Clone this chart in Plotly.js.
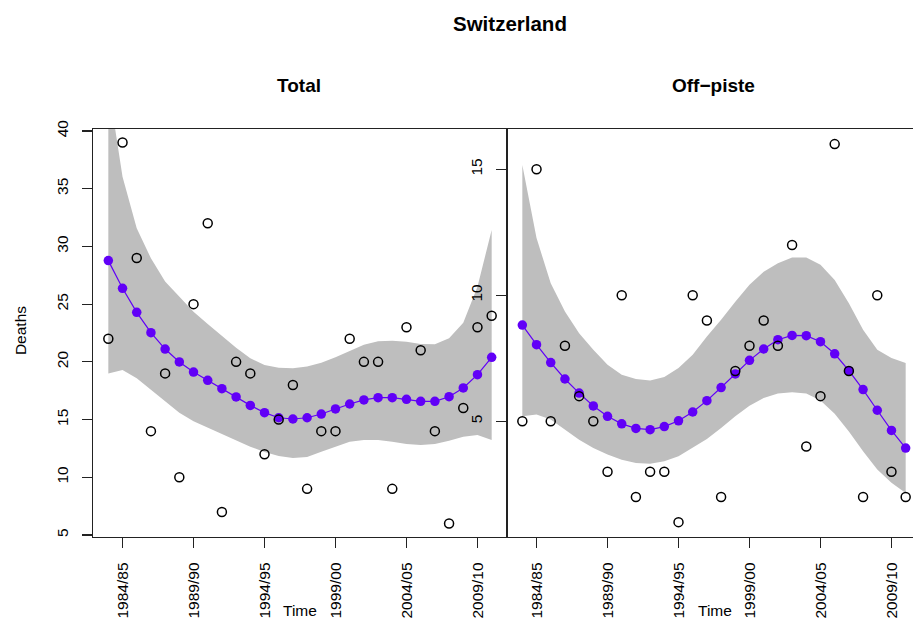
<!DOCTYPE html>
<html>
<head>
<meta charset="utf-8">
<script src="https://cdn.plot.ly/plotly-3.0.1.min.js"></script>
<style>
html,body{margin:0;padding:0;overflow:hidden;background:#fff;}
#chart{width:921px;height:624px;}
</style>
</head>
<body>
<div id="chart"></div>
<script>
// Season start years (1983 = 1983/84 ... 2010 = 2010/11)
var seasons = [1983,1984,1985,1986,1987,1988,1989,1990,1991,1992,1993,1994,1995,1996,
               1997,1998,1999,2000,2001,2002,2003,2004,2005,2006,2007,2008,2009,2010];
var tickYears = [1984,1989,1994,1999,2004,2009];
var tickLabels = ["1984/85","1989/90","1994/95","1999/00","2004/05","2009/10"];

// Total deaths
var totalObs = [22,39,29,14,19,10,25,32,7,20,19,12,15,18,9,14,14,22,20,20,9,23,21,14,6,16,23,24];
var totalFit = [28.77,26.37,24.29,22.53,21.11,19.99,19.12,18.40,17.68,16.96,16.23,15.60,15.16,15.05,
                15.16,15.48,15.92,16.35,16.70,16.90,16.90,16.76,16.58,16.58,16.98,17.74,18.89,20.39];
var totalUpper = [44.0,36.04,31.57,28.97,26.95,25.65,24.35,23.28,22.24,21.23,20.31,19.73,19.50,19.45,
                  19.60,19.93,20.39,20.94,21.49,21.78,21.83,21.75,21.55,21.52,22.04,23.39,26.51,31.42];
var totalLower = [19.0,19.29,18.57,17.6,16.6,15.6,14.85,14.3,13.8,13.2,12.65,12.2,11.85,11.68,
                  11.77,12.22,12.65,13.08,13.23,13.23,13.08,12.88,12.80,12.88,13.17,13.52,13.66,13.23];

// Off-piste deaths
var offObs = [5,15,5,8,6,5,3,10,2,3,3,1,10,9,2,7,8,9,8,12,4,6,16,7,2,10,3,2];
var offFit = [8.82,8.04,7.33,6.68,6.12,5.61,5.20,4.90,4.72,4.67,4.79,5.02,5.37,5.82,
              6.34,6.88,7.42,7.87,8.24,8.41,8.40,8.16,7.68,7.01,6.26,5.44,4.64,3.94];
var offUpper = [15.17,12.27,10.48,9.36,8.50,7.84,7.25,6.85,6.68,6.62,6.76,7.12,7.64,8.37,
                9.03,9.75,10.42,10.94,11.27,11.50,11.50,11.21,10.61,9.69,8.63,7.84,7.51,7.31];
var offLower = [5.20,5.27,5.07,4.67,4.27,3.94,3.68,3.48,3.35,3.32,3.42,3.61,3.94,4.30,
                4.74,5.20,5.62,5.93,6.10,6.15,6.10,5.83,5.30,4.60,3.81,3.09,2.56,2.16];

var leftYTicks = [5,10,15,20,25,30,35,40];
var rightYTicks = [5,10,15];

var PURPLE = "#6100F7";
var BAND = "#BEBEBE";
var FONT = "Liberation Sans, Arial, Helvetica, sans-serif";

function panel(xa, ya, lower, upper, fit, obs) {
  return [
    {x: seasons, y: lower, xaxis: xa, yaxis: ya, type: "scatter", mode: "lines",
     line: {width: 0, color: BAND}, hoverinfo: "skip", showlegend: false},
    {x: seasons, y: upper, xaxis: xa, yaxis: ya, type: "scatter", mode: "lines",
     line: {width: 0, color: BAND}, fill: "tonexty", fillcolor: BAND, hoverinfo: "skip", showlegend: false},
    {x: seasons, y: fit, xaxis: xa, yaxis: ya, type: "scatter", mode: "lines+markers",
     line: {color: PURPLE, width: 1.2}, marker: {color: PURPLE, size: 9.5}, showlegend: false},
    {x: seasons, y: obs, xaxis: xa, yaxis: ya, type: "scatter", mode: "markers",
     marker: {symbol: "circle-open", color: "#000", size: 9, line: {width: 1.5, color: "#000"}}, showlegend: false}
  ];
}

var data = panel("x", "y", totalLower, totalUpper, totalFit, totalObs)
  .concat(panel("x2", "y2", offLower, offUpper, offFit, offObs));

var xCommon = {
  range: [1981.92, 2011.08], tickvals: tickYears, ticktext: tickLabels, tickangle: -90,
  ticks: "outside", ticklen: 10, tickwidth: 1.2, tickcolor: "#222", ticklabelstandoff: 8,
  showline: true, mirror: true, linecolor: "#222", linewidth: 1.3,
  showgrid: false, zeroline: false, fixedrange: true,
  tickfont: {family: FONT, size: 15.5, color: "#000"}
};
var yCommon = {
  tickangle: -90, ticks: "outside", ticklen: 10, tickwidth: 1.2, tickcolor: "#222", ticklabelstandoff: 8,
  showline: true, mirror: true, linecolor: "#222", linewidth: 1.3,
  showgrid: false, zeroline: false, fixedrange: true,
  tickfont: {family: FONT, size: 15.5, color: "#000"}
};

var layout = {
  width: 921, height: 624,
  margin: {l: 93, r: 0, t: 129, b: 87, pad: 0},
  paper_bgcolor: "#fff", plot_bgcolor: "#fff",
  showlegend: false,
  font: {family: FONT, color: "#000"},
  xaxis: Object.assign({}, xCommon, {domain: [0, 0.5], anchor: "y"}),
  xaxis2: Object.assign({}, xCommon, {domain: [0.5, 1], anchor: "y2"}),
  yaxis: Object.assign({}, yCommon, {range: [4.83, 40.17], tickvals: leftYTicks, anchor: "x"}),
  yaxis2: Object.assign({}, yCommon, {range: [0.41, 16.6], tickvals: rightYTicks, anchor: "x2"}),
  annotations: [
    {text: "<b>Switzerland</b>", xref: "paper", yref: "paper", x: 0.5036, y: 1.2598,
     xanchor: "center", yanchor: "middle", showarrow: false, font: {size: 20.5, family: FONT}},
    {text: "<b>Total</b>", xref: "paper", yref: "paper", x: 0.2488, y: 1.1054,
     xanchor: "center", yanchor: "middle", showarrow: false, font: {size: 19, family: FONT}},
    {text: "<b>Off\u2212piste</b>", xref: "paper", yref: "paper", x: 0.7488, y: 1.1054,
     xanchor: "center", yanchor: "middle", showarrow: false, font: {size: 19, family: FONT}},
    {text: "Time", xref: "paper", yref: "paper", x: 0.25, y: -0.179,
     xanchor: "center", yanchor: "middle", showarrow: false, font: {size: 15.5, family: FONT}},
    {text: "Time", xref: "paper", yref: "paper", x: 0.7512, y: -0.179,
     xanchor: "center", yanchor: "middle", showarrow: false, font: {size: 15.5, family: FONT}},
    {text: "Deaths", xref: "paper", yref: "paper", x: -0.0882, y: 0.507, textangle: -90,
     xanchor: "center", yanchor: "middle", showarrow: false, font: {size: 15.5, family: FONT}}
  ]
};

Plotly.newPlot("chart", data, layout, {staticPlot: true, displayModeBar: false});
</script>
</body>
</html>
